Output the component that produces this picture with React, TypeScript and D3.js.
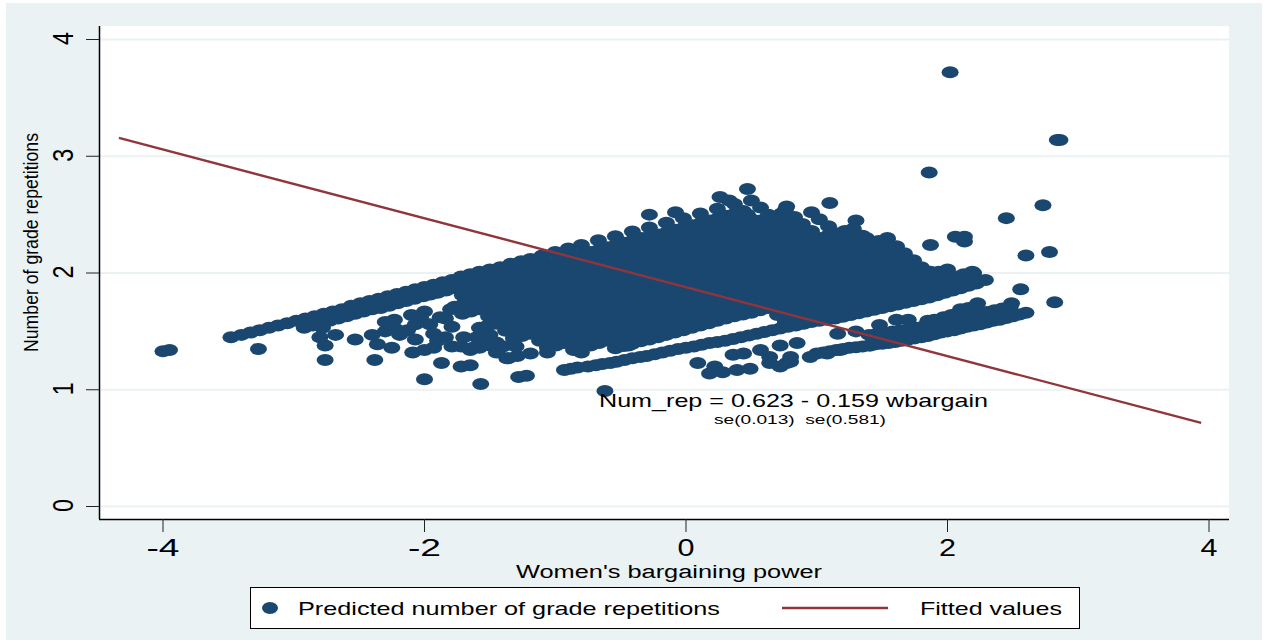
import React from "react";
import * as d3 from "d3";

const xTicks = [-4, -2, 0, 2, 4];
const yTicks = [0, 1, 2, 3, 4];
const fittedLine: [number, number][] = [[-4.337, 3.158], [3.94, 0.716]];

const outliers = [[2.02,3.72],[2.86,3.14],[2.84,3.14],[1.86,2.86],[1.1,2.6],[1.3,2.45],[2.45,2.47],[2.73,2.58],[2.06,2.31],[2.13,2.31],[2.13,2.27],[2.6,2.15],[2.78,2.18],[2.56,1.86],[2.49,1.74],[2.82,1.75],[1.87,2.24],[1.38,2.3],[1.54,2.3],[1.87,2.01],[0.47,2.72],[0.26,2.65],[0.33,2.62],[0.77,2.57],[0.73,2.51],[-0.28,2.5],[-0.08,2.52],[0.47,2.5],[0.57,2.45],[0.8,2.44],[0.87,2.33],[2.2,2],[1.92,1.91]];
const leftScatter = [[-4,1.33],[-3.95,1.34],[-3.48,1.45],[-3.27,1.35],[-2.76,1.255],[-2.38,1.255],[-2,1.09],[-1.87,1.23],[-1.72,1.2],[-1.65,1.21],[-1.57,1.05],[-1.28,1.11],[-1.22,1.12],[-0.62,0.99],[-2.76,1.38],[-2.8,1.45],[-2.68,1.47],[-2.78,1.53],[-2.53,1.43],[-2.4,1.47],[-2.36,1.39],[-2.25,1.36],[-2.3,1.58],[-2.23,1.6],[-2.3,1.5],[-2.19,1.47],[-2.09,1.32],[-2,1.34],[-1.93,1.36],[-2.07,1.43],[-2.13,1.51],[-2.1,1.64],[-2,1.67],[-1.96,1.56],[-2.07,1.56],[-1.88,1.62],[-1.8,1.69],[-1.84,1.45],[-1.79,1.37],[-1.65,1.34],[-1.58,1.36],[-1.5,1.38],[-1.44,1.34],[-1.36,1.27],[-1.29,1.29],[-1.19,1.31],[-1.79,1.54],[-1.63,1.36],[-1.37,1.27],[-1.45,1.32],[-1.06,1.32],[-0.8,1.32],[-0.44,1.38],[-0.67,1.42],[-1.7,1.45],[-1.6,1.45],[-1.5,1.47],[-1.72,1.37],[-1.4,1.37],[-1.3,1.37],[-1.58,1.44],[-1.93,1.48],[-1.9,1.42],[-2.22,1.52],[-2.03,1.62]];
const topEdge = [[-3.4,1.47],[-3.33,1.49],[-3.26,1.51],[-3.19,1.53],[-3.12,1.55],[-3.05,1.57],[-2.98,1.59],[-2.91,1.61],[-2.84,1.63],[-2.77,1.65],[-2.7,1.67],[-2.63,1.69],[-2.56,1.72],[-2.49,1.74],[-2.42,1.76],[-2.35,1.78],[-2.28,1.8],[-2.21,1.82],[-2.14,1.84],[-2.07,1.86],[-2,1.88],[-1.93,1.9],[-1.86,1.92],[-1.79,1.94],[-1.72,1.97],[-1.65,1.99],[-1.58,2.01],[-1.5,2.03],[-1.42,2.05],[-1.34,2.08],[-1.26,2.1],[-1.19,2.12],[-1.1,2.15],[-1,2.18],[-0.9,2.21],[-0.8,2.24],[-0.67,2.28],[-0.54,2.315],[-0.41,2.355],[-0.28,2.39],[-0.15,2.43],[-0.02,2.47],[0.11,2.51],[0.24,2.55],[0.37,2.59],[0.5,2.62]];
const row08 = [[-2.92,1.53],[-2.79,1.57],[-2.66,1.61],[-2.53,1.65],[-2.4,1.69],[-2.27,1.72],[-2.14,1.76],[-2.01,1.8],[-1.9,1.83],[-1.77,1.87],[-1.64,1.91],[-1.51,1.95],[-1.38,1.98],[-1.25,2.02],[-1.12,2.06],[-0.99,2.1],[-0.86,2.14],[-0.73,2.18],[-0.6,2.22],[-0.47,2.26],[-0.34,2.3],[-0.21,2.33],[-0.08,2.37],[0.05,2.41],[0.18,2.45],[0.31,2.49],[0.44,2.53],[0.57,2.56]];
const fill08 = [[-2.855,1.55],[-2.725,1.59],[-2.595,1.63],[-2.465,1.67],[-2.335,1.7],[-2.205,1.74],[-2.075,1.78],[-1.955,1.815],[-1.835,1.85],[-1.705,1.89],[-1.575,1.93],[-1.445,1.965],[-1.315,2],[-1.185,2.04],[-1.055,2.08],[-0.925,2.12],[-0.795,2.16],[-0.665,2.2],[-0.535,2.24],[-0.405,2.28],[-0.275,2.315],[-0.145,2.35],[-0.015,2.39],[0.115,2.43],[0.245,2.47],[0.375,2.51]];
const row16 = [[-1.71,1.81],[-1.58,1.85],[-1.45,1.885],[-1.32,1.92],[-1.19,1.96],[-1.06,2],[-0.93,2.04],[-0.8,2.08],[-0.67,2.12],[-0.54,2.155],[-0.41,2.195],[-0.28,2.23],[-0.15,2.27],[-0.02,2.31],[0.11,2.35],[0.24,2.39],[0.37,2.43],[0.5,2.46],[0.63,2.5],[0.76,2.54]];
const fill16 = [[-1.645,1.83],[-1.515,1.87],[-1.385,1.9],[-1.255,1.94],[-1.125,1.98],[-0.995,2.02],[-0.865,2.06],[-0.735,2.1],[-0.605,2.14],[-0.475,2.175],[-0.345,2.215],[-0.215,2.25],[-0.085,2.29],[0.045,2.33],[0.175,2.37],[0.305,2.41],[0.435,2.445]];
const row24 = [[-1.77,1.71],[-1.64,1.75],[-1.51,1.79],[-1.38,1.825],[-1.25,1.86],[-1.12,1.9],[-0.99,1.94],[-0.86,1.98],[-0.73,2.02],[-0.6,2.06],[-0.47,2.095],[-0.34,2.135],[-0.21,2.17],[-0.08,2.21],[0.05,2.25],[0.18,2.29],[0.31,2.33],[0.44,2.37],[0.57,2.4],[0.7,2.44],[0.83,2.48],[0.96,2.52]];
const fill24 = [[-1.705,1.73],[-1.575,1.77],[-1.445,1.81],[-1.315,1.845],[-1.185,1.88],[-1.055,1.92],[-0.925,1.96],[-0.795,2],[-0.665,2.04],[-0.535,2.08],[-0.405,2.115],[-0.275,2.155],[-0.145,2.19],[-0.015,2.23],[0.115,2.27],[0.245,2.31],[0.375,2.35],[0.505,2.385],[0.635,2.42]];
const row32 = [[-1.84,1.61],[-1.71,1.65],[-1.58,1.69],[-1.45,1.725],[-1.32,1.76],[-1.19,1.8],[-1.06,1.84],[-0.93,1.88],[-0.8,1.92],[-0.67,1.96],[-0.54,1.995],[-0.41,2.035],[-0.28,2.07],[-0.15,2.11],[-0.02,2.15],[0.11,2.19],[0.24,2.23],[0.37,2.27],[0.5,2.3],[0.63,2.34],[0.76,2.38],[0.89,2.42],[1.02,2.46]];
const fill32 = [[-1.645,1.67],[-1.515,1.71],[-1.385,1.745],[-1.255,1.78],[-1.125,1.82],[-0.995,1.86],[-0.865,1.9],[-0.735,1.94],[-0.605,1.98],[-0.475,2.015],[-0.345,2.055],[-0.215,2.09],[-0.085,2.13],[0.045,2.17],[0.175,2.21],[0.305,2.25],[0.435,2.285],[0.565,2.32],[0.695,2.36],[0.825,2.4]];
const row40 = [[-1.51,1.63],[-1.38,1.665],[-1.25,1.7],[-1.12,1.74],[-0.99,1.78],[-0.86,1.82],[-0.73,1.86],[-0.6,1.9],[-0.47,1.935],[-0.34,1.975],[-0.21,2.01],[-0.08,2.05],[0.05,2.09],[0.18,2.13],[0.31,2.17],[0.44,2.21],[0.57,2.24],[0.7,2.28],[0.83,2.32],[0.96,2.36],[1.09,2.4]];
const fill40 = [[-1.445,1.65],[-1.315,1.685],[-1.185,1.72],[-1.055,1.76],[-0.925,1.8],[-0.795,1.84],[-0.665,1.88],[-0.535,1.92],[-0.405,1.955],[-0.275,1.995],[-0.145,2.03],[-0.015,2.07],[0.115,2.11],[0.245,2.15],[0.375,2.19],[0.505,2.225],[0.635,2.26],[0.765,2.3],[0.895,2.34]];
const row48 = [[-1.58,1.53],[-1.45,1.565],[-1.32,1.6],[-1.19,1.64],[-1.06,1.68],[-0.93,1.72],[-0.8,1.76],[-0.67,1.8],[-0.54,1.835],[-0.41,1.875],[-0.28,1.91],[-0.15,1.95],[-0.02,1.99],[0.11,2.03],[0.24,2.07],[0.37,2.11],[0.5,2.14],[0.63,2.18],[0.76,2.22],[0.89,2.26],[1.02,2.3],[1.15,2.34],[1.28,2.38]];
const fill48 = [[-1.515,1.55],[-1.385,1.585],[-1.255,1.62],[-1.125,1.66],[-0.995,1.7],[-0.865,1.74],[-0.735,1.78],[-0.605,1.82],[-0.475,1.855],[-0.345,1.895],[-0.215,1.93],[-0.085,1.97],[0.045,2.01],[0.175,2.05],[0.305,2.09],[0.435,2.125],[0.565,2.16],[0.695,2.2],[0.825,2.24],[0.955,2.28],[1.085,2.32],[1.215,2.36]];
const row56 = [[-1.38,1.505],[-1.25,1.54],[-1.12,1.58],[-0.99,1.62],[-0.86,1.66],[-0.73,1.7],[-0.6,1.74],[-0.47,1.775],[-0.34,1.815],[-0.21,1.85],[-0.08,1.89],[0.05,1.93],[0.18,1.97],[0.31,2.01],[0.44,2.05],[0.57,2.08],[0.7,2.12],[0.83,2.16],[0.96,2.2],[1.09,2.24],[1.22,2.28],[1.35,2.32]];
const fill56 = [[-1.315,1.525],[-1.185,1.56],[-1.055,1.6],[-0.925,1.64],[-0.795,1.68],[-0.665,1.72],[-0.535,1.76],[-0.405,1.795],[-0.275,1.835],[-0.145,1.87],[-0.015,1.91],[0.115,1.95],[0.245,1.99],[0.375,2.03],[0.505,2.065],[0.635,2.1],[0.765,2.14],[0.895,2.18],[1.025,2.22],[1.155,2.26],[1.285,2.3]];
const row64 = [[-1.45,1.405],[-1.32,1.44],[-1.19,1.48],[-1.06,1.52],[-0.93,1.56],[-0.8,1.6],[-0.67,1.64],[-0.54,1.675],[-0.41,1.715],[-0.28,1.75],[-0.15,1.79],[-0.02,1.83],[0.11,1.87],[0.24,1.91],[0.37,1.95],[0.5,1.98],[0.63,2.02],[0.76,2.06],[0.89,2.1],[1.02,2.14],[1.15,2.18],[1.28,2.22],[1.41,2.255],[1.54,2.29]];
const fill64 = [[-1.255,1.46],[-1.125,1.5],[-0.995,1.54],[-0.865,1.58],[-0.735,1.62],[-0.605,1.66],[-0.475,1.695],[-0.345,1.735],[-0.215,1.77],[-0.085,1.81],[0.045,1.85],[0.175,1.89],[0.305,1.93],[0.435,1.965],[0.565,2],[0.695,2.04],[0.825,2.08],[0.955,2.12],[1.085,2.16],[1.215,2.2],[1.345,2.24],[1.475,2.275]];
const row72 = [[-1.12,1.42],[-0.99,1.46],[-0.86,1.5],[-0.73,1.54],[-0.6,1.58],[-0.47,1.615],[-0.34,1.655],[-0.21,1.69],[-0.08,1.73],[0.05,1.77],[0.18,1.81],[0.31,1.85],[0.44,1.89],[0.57,1.92],[0.7,1.96],[0.83,2],[0.96,2.04],[1.09,2.08],[1.22,2.12],[1.35,2.16],[1.48,2.195],[1.61,2.23]];
const fill72 = [[-1.055,1.44],[-0.925,1.48],[-0.795,1.52],[-0.665,1.56],[-0.535,1.6],[-0.405,1.635],[-0.275,1.675],[-0.145,1.71],[-0.015,1.75],[0.115,1.79],[0.245,1.83],[0.375,1.87],[0.505,1.905],[0.635,1.94],[0.765,1.98],[0.895,2.02],[1.025,2.06],[1.155,2.1],[1.285,2.14],[1.415,2.18],[1.545,2.215]];
const row80 = [[-1.06,1.36],[-0.93,1.4],[-0.8,1.44],[-0.67,1.48],[-0.54,1.515],[-0.41,1.555],[-0.28,1.59],[-0.15,1.63],[-0.02,1.67],[0.11,1.71],[0.24,1.75],[0.37,1.79],[0.5,1.82],[0.63,1.86],[0.76,1.9],[0.89,1.94],[1.02,1.98],[1.15,2.02],[1.28,2.06],[1.41,2.095],[1.54,2.13],[1.67,2.17]];
const fill80 = [[-0.995,1.38],[-0.865,1.42],[-0.735,1.46],[-0.605,1.5],[-0.475,1.535],[-0.345,1.575],[-0.215,1.61],[-0.085,1.65],[0.045,1.69],[0.175,1.73],[0.305,1.77],[0.435,1.805],[0.565,1.84],[0.695,1.88],[0.825,1.92],[0.955,1.96],[1.085,2],[1.215,2.04],[1.345,2.08],[1.475,2.115],[1.605,2.15]];
const row88 = [[-0.86,1.34],[-0.73,1.38],[-0.6,1.42],[-0.47,1.455],[-0.34,1.495],[-0.21,1.53],[-0.08,1.57],[0.05,1.61],[0.18,1.65],[0.31,1.69],[0.44,1.73],[0.57,1.76],[0.7,1.8],[0.83,1.84],[0.96,1.88],[1.09,1.92],[1.22,1.96],[1.35,2],[1.48,2.035],[1.61,2.07],[1.74,2.11]];
const fill88 = [[-0.795,1.36],[-0.665,1.4],[-0.535,1.44],[-0.405,1.475],[-0.275,1.515],[-0.145,1.55],[-0.015,1.59],[0.115,1.63],[0.245,1.67],[0.375,1.71],[0.505,1.745],[0.635,1.78],[0.765,1.82],[0.895,1.86],[1.025,1.9],[1.155,1.94],[1.285,1.98],[1.415,2.02],[1.545,2.055],[1.675,2.09]];
const row96 = [[-0.54,1.355],[-0.41,1.395],[-0.28,1.43],[-0.15,1.47],[-0.02,1.51],[0.11,1.55],[0.24,1.59],[0.37,1.63],[0.5,1.66],[0.63,1.7],[0.76,1.74],[0.89,1.78],[1.02,1.82],[1.15,1.86],[1.28,1.9],[1.41,1.935],[1.54,1.97],[1.67,2.01],[1.8,2.05]];
const fill96 = [[-0.475,1.375],[-0.345,1.415],[-0.215,1.45],[-0.085,1.49],[0.045,1.53],[0.175,1.57],[0.305,1.61],[0.435,1.645],[0.565,1.68],[0.695,1.72],[0.825,1.76],[0.955,1.8],[1.085,1.84],[1.215,1.88],[1.345,1.92],[1.475,1.955],[1.605,1.99],[1.735,2.03]];
const row104 = [[0.7,1.64],[0.83,1.68],[0.96,1.72],[1.09,1.76],[1.22,1.8],[1.35,1.84],[1.48,1.875],[1.61,1.91],[1.74,1.95],[1.87,1.99],[2,2.03]];
const fill104 = [[0.765,1.66],[0.895,1.7],[1.025,1.74],[1.155,1.78],[1.285,1.82],[1.415,1.86],[1.545,1.895],[1.675,1.93],[1.805,1.97],[1.935,2.01]];
const row112 = [[0.76,1.58],[0.89,1.62],[1.02,1.66],[1.15,1.7],[1.28,1.74],[1.41,1.775],[1.54,1.81],[1.67,1.85],[1.8,1.89],[1.93,1.93],[2.06,1.97],[2.19,2.01]];
const fill112 = [[0.825,1.6],[0.955,1.64],[1.085,1.68],[1.215,1.72],[1.345,1.755],[1.475,1.79],[1.605,1.83],[1.735,1.87],[1.865,1.91],[1.995,1.95],[2.125,1.99]];
const row118 = [[1.3,1.7],[1.37,1.71],[1.43,1.73],[1.5,1.75],[1.56,1.76],[1.63,1.78],[1.69,1.8],[1.76,1.82],[1.82,1.84],[1.89,1.855],[1.95,1.87],[2.02,1.89],[2.08,1.91],[2.14,1.93],[2.2,1.95]];
const rowBottom = [[-0.93,1.17],[-0.83,1.19],[-0.75,1.2],[-0.64,1.22],[-0.53,1.24],[-0.41,1.27],[-0.3,1.29],[-0.18,1.32],[-0.06,1.35],[0.06,1.37],[0.18,1.4],[0.3,1.42],[0.42,1.45],[0.54,1.48],[0.66,1.51],[0.78,1.54],[0.9,1.565],[1.02,1.59],[1.14,1.61],[1.26,1.64],[1.38,1.67],[1.5,1.7],[1.62,1.73],[1.74,1.76],[1.86,1.79],[1.98,1.83],[2.1,1.87],[2.22,1.91],[2.29,1.94]];
const fillBottom = [[-0.88,1.18],[-0.69,1.21],[-0.58,1.23],[-0.47,1.255],[-0.35,1.28],[-0.24,1.305],[-0.12,1.335],[0,1.36],[0.12,1.385],[0.24,1.41],[0.36,1.435],[0.48,1.465],[0.6,1.495],[0.72,1.525],[0.84,1.55],[0.96,1.58],[1.08,1.6],[1.2,1.625],[1.32,1.655],[1.44,1.685],[1.56,1.715],[1.68,1.745],[1.8,1.775],[1.92,1.81],[2.04,1.85],[2.16,1.89]];
const lowBand1 = [[0.8,1.28],[1,1.31],[1.1,1.33],[1.2,1.35],[1.3,1.365],[1.4,1.38],[1.5,1.395],[1.6,1.41],[1.7,1.43],[1.8,1.45],[1.9,1.475],[2,1.5],[2.1,1.525],[2.2,1.55],[2.3,1.575],[2.4,1.6],[2.5,1.63],[2.6,1.66]];
const lowBand2 = [[1.4,1.47],[1.52,1.49],[1.64,1.51],[1.76,1.53],[1.88,1.56],[2,1.59],[2.12,1.62],[2.24,1.65],[2.36,1.68],[2.48,1.71]];
const lowBand3 = [[1.85,1.59],[1.97,1.62],[2.09,1.66],[2.23,1.74],[1.48,1.555],[1.61,1.6],[1.7,1.6],[1.16,1.48],[1.3,1.5]];
const lowFill = [[1.05,1.32],[1.15,1.34],[1.25,1.36],[1.35,1.37],[1.45,1.39],[1.55,1.4],[1.65,1.42],[1.75,1.44],[1.85,1.46],[1.95,1.49],[2.05,1.51],[2.15,1.54],[2.25,1.56],[2.35,1.59],[2.45,1.615],[2.55,1.645],[1.46,1.48],[1.58,1.5],[1.7,1.52],[1.82,1.545],[1.94,1.575],[2.06,1.605],[2.18,1.635],[2.3,1.665],[2.42,1.695],[1.9,1.6],[2.03,1.64],[2.16,1.7],[2.1,1.69]];
const lowCluster = [[0.09,1.23],[0.22,1.2],[0.18,1.14],[0.28,1.15],[0.39,1.17],[0.49,1.18],[0.64,1.23],[0.77,1.23],[0.36,1.3],[0.44,1.31],[0.57,1.34],[0.72,1.38],[0.85,1.4],[0.95,1.28],[1.08,1.31],[1.18,1.34],[0.64,1.28],[0.72,1.2],[0.8,1.24],[1.41,1.38]];

const pointRows = [outliers, leftScatter, topEdge, row08, fill08, row16, fill16, row24, fill24, row32, fill32, row40, fill40, row48, fill48, row56, fill56, row64, fill64, row72, fill72, row80, fill80, row88, fill88, row96, fill96, row104, fill104, row112, fill112, row118, rowBottom, fillBottom, lowBand1, lowBand2, lowBand3, lowFill, lowCluster];

const NAVY = "#1a476f";
const MAROON = "#90353b";
const BG = "#eaf2f3";
const FONT = "'Liberation Sans', Arial, sans-serif";

const x = d3.scaleLinear().domain([-4, 4]).range([163, 1209]);
const y = d3.scaleLinear().domain([0, 4]).range([506.5, 39.5]);
const fitPath = d3.line<[number, number]>().x(d => x(d[0])).y(d => y(d[1]))(fittedLine) as string;

function Txt({ px, py, len, size, rotate, anchor = "middle", children }: any) {
  return (
    <text
      x={px}
      y={py}
      fontFamily={FONT}
      fontSize={size}
      fill="#000"
      textAnchor={anchor}
      textLength={len}
      lengthAdjust="spacingAndGlyphs"
      style={{ whiteSpace: "pre" }}
      transform={rotate ? `rotate(-90 ${px} ${py})` : undefined}
    >
      {children}
    </text>
  );
}

export default function App() {
  return (
    <svg width={1265} height={640} style={{ position: "absolute", left: 0, top: 0 }}>
      <rect x={0} y={0} width={1265} height={640} fill="#fff" />
      <rect x={6} y={3} width={1256} height={637} fill={BG} />
      <rect x={99.5} y={26} width={1129.5} height={493} fill="#fff" />
      {yTicks.map(t => (
        <line key={t} x1={100} x2={1229} y1={y(t)} y2={y(t)} stroke={BG} strokeWidth={2} />
      ))}
      {pointRows.flat().map((p, i) => (
        <ellipse key={i} cx={x(p[0])} cy={y(p[1])} rx={8.5} ry={6} fill={NAVY} />
      ))}
      <path d={fitPath} fill="none" stroke={MAROON} strokeWidth={2.4} />
      <line x1={99.5} x2={99.5} y1={26} y2={519} stroke="#000" strokeWidth={1.5} />
      <line x1={99} x2={1229} y1={519.5} y2={519.5} stroke="#000" strokeWidth={1.5} />
      {yTicks.map(t => (
        <g key={t}>
          <line x1={86} x2={99} y1={y(t)} y2={y(t)} stroke="#222" strokeWidth={1} />
          <Txt px={73} py={y(t) - 1} len={13} size={30} rotate>{d3.format("d")(t)}</Txt>
        </g>
      ))}
      {xTicks.map(t => (
        <g key={t}>
          <line x1={x(t)} x2={x(t)} y1={519} y2={532} stroke="#222" strokeWidth={1} />
          <Txt px={x(t)} py={556} len={t < 0 ? 33 : 17} size={24}>{d3.format("d")(t).replace("−", "-")}</Txt>
        </g>
      ))}
      <Txt px={38} py={242.5} len={219} size={21} rotate>Number of grade repetitions</Txt>
      <Txt px={669} py={578} len={306} size={18}>Women's bargaining power</Txt>
      <Txt px={793.5} py={407} len={389} size={19}>Num_rep = 0.623 - 0.159 wbargain</Txt>
      <Txt px={800} py={424} len={172} size={13.5}>{"se(0.013)  se(0.581)"}</Txt>
      <rect x={250.5} y={587.5} width={829} height={41} fill="#fff" stroke="#000" strokeWidth={1} />
      <ellipse cx={270} cy={608} rx={8} ry={6} fill={NAVY} />
      <text x={298} y={615} fontFamily={FONT} fontSize={19} textLength={422} lengthAdjust="spacingAndGlyphs">Predicted number of grade repetitions</text>
      <line x1={782} x2={888} y1={608} y2={608} stroke={MAROON} strokeWidth={2.4} />
      <text x={920} y={615} fontFamily={FONT} fontSize={19} textLength={142} lengthAdjust="spacingAndGlyphs">Fitted values</text>
    </svg>
  );
}
